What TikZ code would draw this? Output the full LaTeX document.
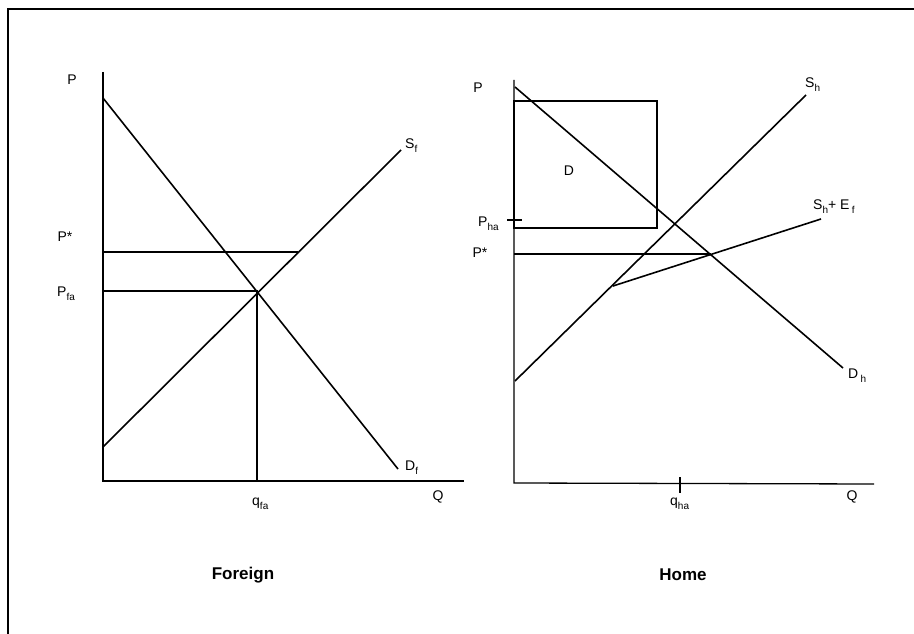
\documentclass[tikz,border=0pt]{standalone}
\usepackage{fontspec}
\setmainfont{Liberation Sans}
\newcommand{\lbl}[2]{#1\raisebox{-4pt}{\fontsize{10}{10}\selectfont #2}}
\begin{document}
\begin{tikzpicture}[x=1pt,y=-1pt,
  axisline/.style={line width=1.3pt},
  curveline/.style={line width=1.6pt},
  guideline/.style={line width=1.1pt},
  framel/.style={line width=1.2pt},
  lab/.style={inner sep=0pt,font=\fontsize{14}{14}\selectfont},
  title/.style={inner sep=0pt,font=\fontsize{17}{17}\selectfont\bfseries}]
\useasboundingbox (0,0) rectangle (914,634);
% frame
\coordinate (fbl) at (8,634);
\coordinate (ftl) at (8,9);
\coordinate (ftr) at (914,9);
\draw[framel] (fbl) -- (ftl) -- (ftr);

% ---------- Foreign panel ----------
\coordinate (lt) at (103,72);
\coordinate (lo) at (103,481);
\coordinate (lx) at (464,481);
\draw[axisline] (lt) -- (lo) -- (lx);
\coordinate (dfs) at (103,98);
\coordinate (dfe) at (398,469);
\draw[curveline] (dfs) -- (dfe);
\coordinate (sfs) at (103,447);
\coordinate (sfe) at (401,150);
\draw[curveline] (sfs) -- (sfe);
\coordinate (lps) at (103,252);
\coordinate (lpe) at (298,252);
\draw[guideline] (lps) -- (lpe);
\coordinate (pfs) at (103,291);
\coordinate (pfi) at (257,291);
\coordinate (pfb) at (257,481);
\draw[guideline] (pfs) -- (pfi) -- (pfb);

\node[lab] (lP) at (72,80) {P};
\node[lab] (lPs) at (65,237) {P*};
\node[lab,anchor=base west] (lPfa) at (57,296) {\lbl{P}{fa}};
\node[lab,anchor=base west] (lSf) at (405,149) {\lbl{S}{f}};
\node[lab,anchor=base west] (lDf) at (405,470) {\lbl{D}{f}};
\node[lab,anchor=base west] (lqfa) at (252,505) {\lbl{q}{fa}};
\node[lab] (lQ) at (438,497) {Q};
\node[title] (foreign) at (243,575) {Foreign};

% ---------- Home panel ----------
\coordinate (rt) at (514,80);
\coordinate (ro) at (514,483);
\coordinate (rx) at (874,484);
\draw[axisline] (rt) -- (ro) -- (rx);
\coordinate (dhs) at (515,87);
\coordinate (dhe) at (843,368);
\draw[curveline] (dhs) -- (dhe);
\coordinate (shs) at (515,381);
\coordinate (she) at (806,95);
\draw[curveline] (shs) -- (she);
\coordinate (ses) at (613,286);
\coordinate (see) at (821,219);
\draw[curveline] (ses) -- (see);
\coordinate (rps) at (514,254);
\coordinate (rpe) at (711,254);
\draw[guideline] (rps) -- (rpe);
\coordinate (bx1) at (514,101);
\coordinate (bx2) at (657,228);
\draw[guideline] (bx1) rectangle (bx2);
\coordinate (tk1) at (507,220);
\coordinate (tk2) at (522,220);
\draw[guideline] (tk1) -- (tk2);
\coordinate (tq1) at (680,477);
\coordinate (tq2) at (680,493);
\draw[guideline] (tq1) -- (tq2);

\node[lab] (rP) at (478,88) {P};
\node[lab] (rD) at (569,171) {D};
\node[lab,anchor=base west] (rPha) at (478,226) {\lbl{P}{ha}};
\node[lab] (rPs) at (480,253) {P*};
\node[lab,anchor=base west] (rSh) at (805,88) {\lbl{S}{h}};
\node[lab,anchor=base west] (rShEf) at (813,209) {\lbl{S}{h}+ E\,\lbl{}{f}};
\node[lab,anchor=base west] (rDh) at (848,378) {D\,\lbl{}{h}};
\node[lab,anchor=base west] (rqha) at (670,505) {\lbl{q}{ha}};
\node[lab] (rQ) at (852,497) {Q};
\node[title] (home) at (683,575) {Home};
\end{tikzpicture}
\end{document}
